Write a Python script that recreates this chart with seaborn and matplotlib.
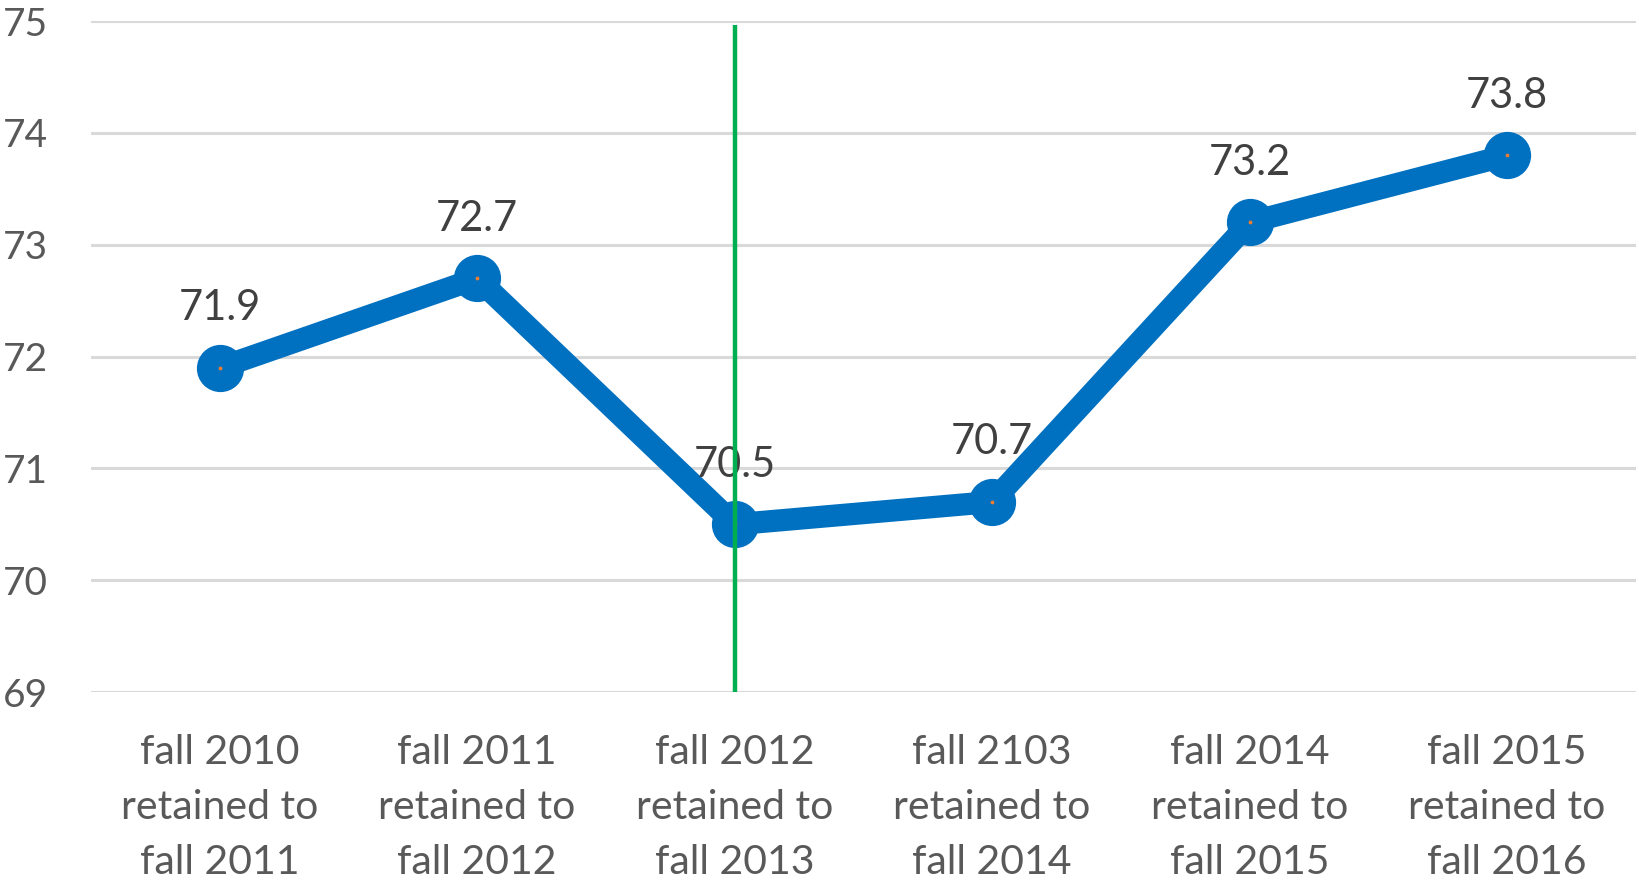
import numpy as np
import matplotlib
matplotlib.use("Agg")
import matplotlib.pyplot as plt
import seaborn as sns

# data
cohorts = ["fall 2010\nretained to\nfall 2011",
           "fall 2011\nretained to\nfall 2012",
           "fall 2012\nretained to\nfall 2013",
           "fall 2103\nretained to\nfall 2014",
           "fall 2014\nretained to\nfall 2015",
           "fall 2015\nretained to\nfall 2016"]
retention = [71.9, 72.7, 70.5, 70.7, 73.2, 73.8]
y_ticks = [69, 70, 71, 72, 73, 74, 75]
marker_index = 2  # green vertical line

sns.set_style("white")
plt.rcParams['font.family'] = ['Lato', 'DejaVu Sans']

text_col = "#595959"
blue = "#0070C0"

fig = plt.figure(figsize=(16.39, 8.83), dpi=100)
left, width = 0.0555, 0.9425
ax = fig.add_axes([left, 0.2163, width, 0.7597])

xpos = np.arange(len(cohorts))
sns.lineplot(x=xpos, y=retention, ax=ax, color=blue, linewidth=16,
             marker="o", markersize=34, markeredgewidth=0, zorder=3)
# tiny orange centre dot, like the original
ax.scatter(xpos, retention, s=3, color="#ED7D31", zorder=4)

for x, v in zip(xpos, retention):
    ax.annotate(f"{v}", (x, v), xytext=(0, 43), textcoords="offset points",
                ha="center", va="center", fontsize=30, color="#404040", zorder=5)

ax.vlines(marker_index, 69, 74.97, color="#00B050", linewidth=3.2, zorder=6)

ax.set_ylim(69, 75)
ax.set_xlim(-0.5, len(cohorts) - 0.5)
ax.set_yticks(y_ticks)
ax.set_yticklabels([str(t) for t in y_ticks])
ax.set_xticks(xpos)
ax.set_xticklabels(cohorts, linespacing=1.6)
ax.yaxis.grid(True, color="#D9D9D9", linewidth=2.2)
ax.set_axisbelow(True)
for s in ax.spines.values():
    s.set_visible(False)
ax.tick_params(axis="y", length=0, pad=0, labelsize=28, labelcolor=text_col)
ax.tick_params(axis="x", length=0, pad=30, labelsize=29.5, labelcolor=text_col)
for lab in ax.get_yticklabels():
    lab.set_horizontalalignment("left")
    lab.set_transform(ax.get_yaxis_transform())
    lab.set_x(-left / width + 0.002)

fig.savefig("out.png", dpi=100)
